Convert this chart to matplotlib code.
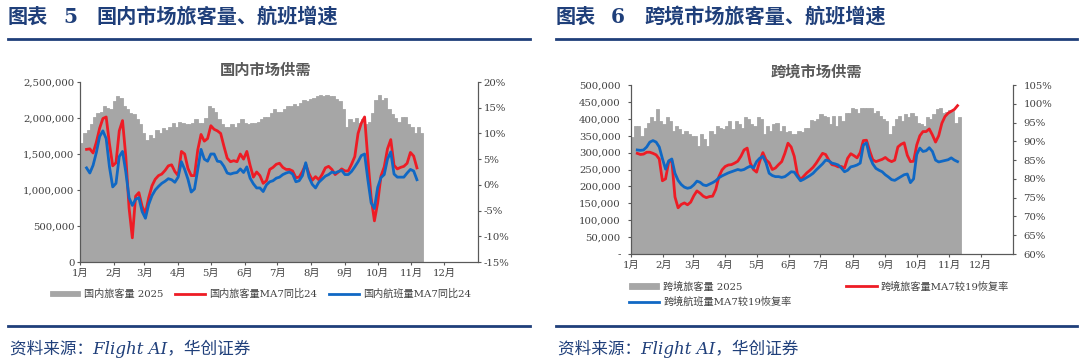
import numpy as np
import matplotlib.pyplot as plt
from matplotlib.lines import Line2D
from matplotlib.ticker import FuncFormatter

plt.rcParams['font.family'] = ['DejaVu Serif', 'Noto Sans CJK SC']
plt.rcParams['axes.unicode_minus'] = False

months = [f"{i}月" for i in range(1, 13)]
month_start = [0, 31, 59, 90, 120, 151, 181, 212, 243, 273, 304, 334]

# 国内旅客量 2025（万人次，每3天取一个点，1月1日起）
dom_pax = [165, 179, 184, 191, 202, 207, 209, 217, 214, 212,
           223, 230, 228, 216, 212, 207, 205, 198, 191, 179,
           170, 177, 172, 184, 179, 186, 184, 188, 193, 188,
           194, 193, 191, 191, 193, 198, 193, 193, 200, 216,
           214, 209, 198, 191, 188, 188, 191, 188, 193, 199,
           193, 191, 193, 193, 194, 198, 201, 202, 207, 212,
           209, 209, 213, 216, 217, 219, 217, 221, 225, 223,
           226, 228, 230, 232, 231, 232, 230, 230, 226, 223,
           212, 188, 198, 195, 200, 193, 198, 191, 195, 207,
           225, 232, 225, 228, 212, 205, 200, 195, 202, 202,
           191, 188, 179, 188, 179]
# 国内旅客量 / 航班量 MA7 同比24（%），1月7日起
dom_pax_yoy = [6.9, 7.0, 6.2, 8.3, 11.0, 12.9, 13.2, 8.0, 3.7, 4.3,
               10.5, 12.5, 5.5, -4.5, -10.3, -2.2, -1.5, -4.2, -5.5, -2.5,
               -0.2, 1.1, 1.8, 2.1, 2.8, 3.7, 3.9, 2.6, 1.8, 6.5,
               6.0, 3.2, 1.8, 1.8, 6.8, 9.8, 8.5, 9.0, 11.5, 10.8,
               10.5, 10.0, 7.5, 5.2, 4.5, 4.7, 4.5, 6.0, 5.0, 6.5,
               3.8, 1.5, 2.5, 1.8, 0.3, 0.8, 3.0, 3.4, 4.0, 4.2,
               3.4, 3.0, 3.0, 2.7, 1.4, 1.5, 2.6, 4.0, 2.2, 0.9,
               1.6, 1.0, 2.0, 3.3, 3.6, 3.0, 2.0, 2.5, 3.1, 2.7,
               2.7, 4.0, 5.5, 10.0, 12.0, 13.2, 5.0, -2.5, -7.0, -3.5,
               1.7, 3.5, 7.0, 8.8, 3.8, 3.1, 3.4, 3.6, 4.2, 6.3,
               5.6, 3.3]
dom_flt_yoy = [3.3, 2.3, 3.8, 6.3, 9.4, 10.5, 9.0, 3.5, -0.4, 0.3,
               5.5, 6.5, 2.5, -2.5, -4.0, -2.8, -2.5, -5.2, -6.5, -3.8,
               -2.1, -1.0, -0.3, 0.3, 0.7, 1.2, 1.0, 0.5, 1.5, 4.5,
               3.0, 1.1, -1.4, -0.8, 3.0, 6.9, 5.0, 4.6, 6.0, 6.0,
               4.6, 4.5, 3.6, 2.3, 2.1, 2.3, 2.4, 3.1, 2.4, 3.5,
               1.3, 0.2, -0.6, -0.6, -1.3, 0.0, 0.6, 0.8, 1.3, 1.5,
               2.0, 2.3, 2.5, 2.1, 0.6, 0.8, 1.8, 4.3, 1.5, 0.1,
               -0.6, 0.5, 1.1, 1.7, 2.0, 2.5, 2.3, 2.6, 2.8, 2.0,
               2.0, 2.6, 3.5, 4.5, 5.7, 6.0, 1.0, -3.5, -4.6, -0.5,
               1.4, 2.0, 5.0, 6.4, 2.1, 1.5, 1.5, 1.5, 2.3, 3.0,
               2.7, 1.0]

# 跨境旅客量 2025（千人次）
intl_pax = [345, 379, 379, 350, 374, 389, 406, 394, 428, 394,
            384, 404, 394, 364, 379, 369, 355, 364, 355, 350,
            350, 320, 355, 340, 320, 364, 355, 379, 374, 369,
            379, 394, 369, 394, 384, 374, 406, 399, 384, 379,
            406, 399, 355, 379, 364, 384, 389, 364, 379, 360,
            364, 355, 355, 364, 360, 374, 374, 396, 394, 399,
            413, 409, 404, 384, 409, 379, 409, 394, 418, 418,
            433, 428, 418, 433, 433, 433, 433, 418, 423, 409,
            399, 394, 355, 379, 399, 409, 394, 413, 404, 418,
            409, 389, 384, 379, 404, 399, 413, 428, 431, 418,
            421, 425, 423, 389, 404]
# 跨境旅客量 / 航班量 MA7 较19恢复率（%）
intl_pax_rec = [86.8, 86.5, 86.6, 87.1, 87.1, 86.8, 86.4, 85.3, 79.5, 80.0,
                84.5, 84.9, 75.2, 72.3, 73.2, 73.6, 73.1, 73.8, 75.5, 76.8,
                76.2, 75.4, 75.0, 75.3, 75.4, 77.2, 80.6, 82.4, 83.3, 83.7,
                83.8, 84.2, 84.7, 86.0, 87.7, 88.2, 84.2, 82.5, 81.8, 84.7,
                87.0, 85.1, 84.3, 82.5, 82.9, 83.8, 84.6, 86.8, 89.5, 88.5,
                86.0, 81.3, 79.8, 80.7, 81.6, 82.3, 83.1, 84.2, 85.5, 86.8,
                86.5, 85.0, 83.8, 83.6, 83.2, 83.3, 82.9, 85.5, 86.7, 86.2,
                85.6, 87.0, 90.2, 90.3, 87.5, 85.1, 84.6, 84.9, 85.2, 85.7,
                85.0, 84.6, 85.0, 88.5, 89.2, 89.6, 86.3, 84.6, 84.7, 89.0,
                91.5, 92.6, 92.6, 93.3, 91.7, 89.8, 91.5, 94.8, 96.6, 97.5,
                98.0, 98.5, 99.5]
intl_flt_rec = [87.7, 87.6, 87.7, 88.5, 89.8, 90.2, 89.8, 88.5, 85.4, 82.6,
                84.8, 85.3, 81.5, 79.6, 78.5, 77.8, 77.5, 77.7, 78.4, 79.4,
                79.1, 78.4, 78.2, 78.6, 79.0, 79.5, 80.3, 80.8, 81.2, 81.6,
                81.9, 82.2, 82.5, 82.3, 82.5, 83.0, 83.4, 82.9, 84.6, 85.5,
                86.0, 84.3, 81.5, 80.9, 80.6, 80.6, 80.4, 80.6, 81.2, 81.9,
                81.8, 80.6, 79.5, 79.9, 80.4, 80.9, 81.5, 82.4, 83.2, 84.0,
                85.0, 84.8, 84.2, 84.0, 83.7, 82.9, 81.9, 82.3, 83.2, 83.4,
                83.7, 84.2, 89.0, 89.6, 86.0, 84.0, 82.8, 82.3, 81.9, 81.1,
                80.5, 79.8, 79.6, 80.1, 80.6, 81.1, 81.3, 79.0, 80.0, 86.5,
                88.2, 87.3, 87.5, 88.3, 87.3, 85.0, 84.5, 84.7, 84.9, 85.1,
                85.6, 85.0, 84.6]

bar_days = np.arange(0, 313, 3)
dom_line_days = np.arange(6, 310, 3)
intl_line_days = np.arange(6, 313, 3)

GRAY = '#A6A6A6'
RED = '#EE1C25'
BLUE = '#1068C4'
NAVY = '#1F3F7A'
AXIS = '#595959'
TXT = '#404040'
W, H = 1080, 361


def fx(x):
    return x / W


def fy(y):
    return 1 - y / H


fig = plt.figure(figsize=(10.8, 3.61), dpi=100)


def chart(rect, pax, scale, ymax, ystep, yfmt, pax_line, flt_line, line_days,
          rlo, rhi, rstep, lpad):
    ax = fig.add_axes(rect)
    bars = ax.bar(bar_days, np.array(pax) * scale, width=3, align='edge',
                  color=GRAY, edgecolor=GRAY, linewidth=0.6)
    ax.set_xlim(0, 365)
    ax.set_ylim(0, ymax)
    ax.set_yticks(np.arange(0, ymax + 1, ystep))
    ax.yaxis.set_major_formatter(FuncFormatter(yfmt))
    ax.set_xticks(month_start)
    ax.set_xticklabels(months)
    ax2 = ax.twinx()
    l1, = ax2.plot(line_days, pax_line, color=RED, lw=2.0)
    l2, = ax2.plot(line_days, flt_line, color=BLUE, lw=2.0)
    ax2.set_ylim(rlo, rhi)
    ax2.set_yticks(np.arange(rlo, rhi + 1, rstep))
    ax2.yaxis.set_major_formatter(FuncFormatter(lambda v, p: f"{int(round(v))}%"))
    for a in (ax, ax2):
        a.spines['top'].set_visible(False)
        for s in ('left', 'right', 'bottom'):
            a.spines[s].set_color(AXIS)
            a.spines[s].set_linewidth(0.8)
        a.tick_params(colors=AXIS, labelcolor=TXT, labelsize=7.3,
                      length=2.5, width=0.8, direction='out')
        a.tick_params(axis='y', pad=lpad)
    ax.tick_params(axis='x', pad=2.5)
    return bars, l1, l2


# 左图：国内
b1, r1, u1 = chart([fx(80), fy(262), fx(398), 180 / H], dom_pax, 1e4,
                   2500000, 500000, lambda v, p: f"{int(v):,}",
                   dom_pax_yoy, dom_flt_yoy, dom_line_days, -15, 20, 5, 1.5)
# 右图：跨境
b2, r2, u2 = chart([fx(631), fy(254), fx(382), 169 / H], intl_pax, 1e3,
                   500000, 50000, lambda v, p: "-" if v == 0 else f"{int(v):,}",
                   intl_pax_rec, intl_flt_rec, intl_line_days, 60, 105, 5, 5)

# 标题与装饰
head = dict(fontsize=14.5, fontweight='bold', color=NAVY, va='center')
for x0, num, title, x1 in [(8, '5', '国内市场旅客量、航班增速', 530),
                           (556, '6', '跨境市场旅客量、航班增速', 1077)]:
    fig.text(fx(x0), fy(17), '图表', **head)
    fig.text(fx(x0 + 55), fy(17), num, **head)
    fig.text(fx(x0 + 88), fy(17), title, **head)
    fig.add_artist(Line2D([fx(x0), fx(x1)], [fy(39), fy(39)], color=NAVY, lw=2))
    fig.add_artist(Line2D([fx(x0), fx(x1)], [fy(326), fy(326)], color=NAVY, lw=2))
    fig.text(fx(x0 + 2), fy(349), '资料来源：Flight AI，华创证券', fontsize=12,
             style='italic', color=NAVY, va='center')

fig.text(fx(266), fy(70), '国内市场供需', ha='center', va='center', fontsize=11,
         fontweight='bold', color='#595959', family='Noto Sans CJK SC')
fig.text(fx(816), fy(72), '跨境市场供需', ha='center', va='center', fontsize=11,
         fontweight='bold', color='#595959', family='Noto Sans CJK SC')

# 图例
leg = dict(frameon=False, fontsize=7.3, handlelength=3.0, handleheight=0.5,
           handletextpad=0.4, borderpad=0, borderaxespad=0, labelcolor=TXT)
fig.legend([b1, r1, u1], ['国内旅客量 2025', '国内旅客量MA7同比24', '国内航班量MA7同比24'],
           loc='center left', bbox_to_anchor=(fx(50), fy(294)), ncol=3,
           columnspacing=1.1, **leg)
fig.legend([b2, u2, r2], ['跨境旅客量 2025', '跨境航班量MA7较19恢复率', '跨境旅客量MA7较19恢复率'],
           loc='upper left', bbox_to_anchor=(fx(629), fy(281)), ncol=2,
           columnspacing=5.4, labelspacing=0.55, **leg)

fig.savefig('out.png', dpi=100)
